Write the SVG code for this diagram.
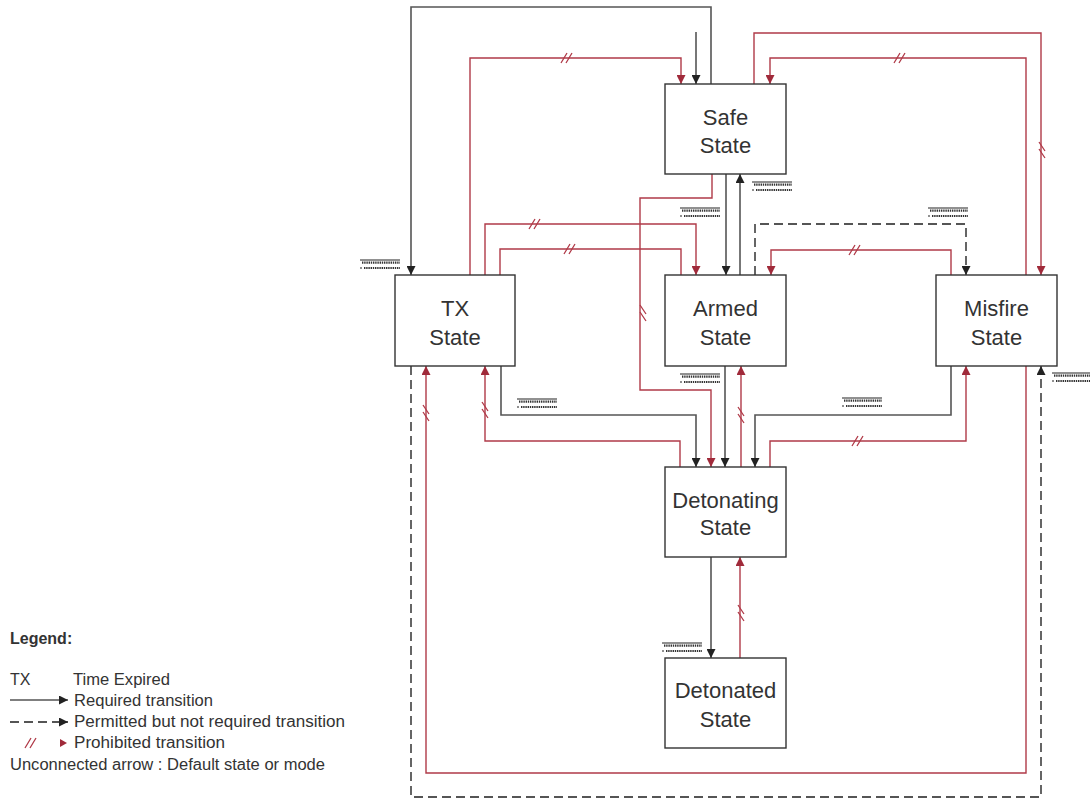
<svg xmlns="http://www.w3.org/2000/svg" xmlns:xlink="http://www.w3.org/1999/xlink" width="1090" height="799" viewBox="0 0 1090 799">
<style>
.box{fill:#fff;stroke:#333;stroke-width:1.4}
.nt{font-family:"Liberation Sans",Arial,sans-serif;font-size:22px;fill:#333;text-anchor:middle}
.lt{font-family:"Liberation Sans",Arial,sans-serif;font-size:16px;fill:#333}
.req{fill:none;stroke:#555;stroke-width:1.6}
.perm{fill:none;stroke:#555;stroke-width:1.8;stroke-dasharray:9 5}
.pro{fill:none;stroke:#b03a48;stroke-width:1.4}
.sl{stroke:#b03a48;stroke-width:1.3;fill:none}
.sqs{stroke:#222;stroke-width:1;fill:none}
.sqd{stroke:#333;stroke-width:2.2;stroke-dasharray:1.4 0.8;fill:none}
</style>
<defs>
<marker id="ab" viewBox="0 0 10 10" refX="10" refY="5" markerWidth="9" markerHeight="9" markerUnits="userSpaceOnUse" orient="auto"><path d="M0,0 L10,5 L0,10 z" fill="#222"/></marker>
<marker id="ar" viewBox="0 0 10 10" refX="10" refY="5" markerWidth="9" markerHeight="9" markerUnits="userSpaceOnUse" orient="auto"><path d="M0,0 L10,5 L0,10 z" fill="#a02a3a"/></marker>
<g id="slH"><path class="sl" d="M-6,5 L0,-5 M-1,5 L5,-5"/></g>
<g id="slV"><path class="sl" d="M-3,-8 L3,1 M-3,-1 L3,8"/></g>
<g id="sq"><path class="sqs" d="M0,0 H40"/><path class="sqd" d="M2,2.6 H40"/><path class="sqd" d="M4,8 H40"/><path class="sqs" d="M0,8 H2"/></g>
</defs>

<g id="connectors">
  <!-- required -->
  <path class="req" d="M711,84 V7 H411 V275" marker-end="url(#ab)"/>
  <path class="req" d="M696,32 V84" marker-end="url(#ab)"/>
  <path class="req" d="M726,174 V275" marker-end="url(#ab)"/>
  <path class="req" d="M740,275 V174" marker-end="url(#ab)"/>
  <path class="req" d="M501,366 V415 H696 V467" marker-end="url(#ab)"/>
  <path class="req" d="M725,366 V467" marker-end="url(#ab)"/>
  <path class="req" d="M951,366 V415 H755 V467" marker-end="url(#ab)"/>
  <path class="req" d="M711,557 V658" marker-end="url(#ab)"/>
  <!-- permitted -->
  <path class="perm" d="M755,275 V224 H966 V275" marker-end="url(#ab)"/>
  <path class="perm" d="M411,366 V797 H1041 V366" marker-end="url(#ab)"/>
  <!-- prohibited -->
  <path class="pro" d="M470,275 V58 H681 V84" marker-end="url(#ar)"/>
  <path class="pro" d="M754,84 V33 H1041 V275" marker-end="url(#ar)"/>
  <path class="pro" d="M1026,275 V58 H770 V84" marker-end="url(#ar)"/>
  <path class="pro" d="M485,275 V224 H696 V275" marker-end="url(#ar)"/>
  <path class="pro" d="M681,275 V249 H500 V275"/>
  <path class="pro" d="M951,275 V250 H771 V275" marker-end="url(#ar)"/>
  <path class="pro" d="M712,174 V198 H640 V390 H711 V467" marker-end="url(#ar)"/>
  <path class="pro" d="M680,467 V441 H485 V366" marker-end="url(#ar)"/>
  <path class="pro" d="M741,467 V366" marker-end="url(#ar)"/>
  <path class="pro" d="M770,467 V441 H966 V366" marker-end="url(#ar)"/>
  <path class="pro" d="M1026,366 V773 H426 V366" marker-end="url(#ar)"/>
  <path class="pro" d="M740,658 V557" marker-end="url(#ar)"/>
  <!-- prohibited marks -->
  <use xlink:href="#slH" x="567" y="58"/>
  <use xlink:href="#slV" x="1042" y="150"/>
  <use xlink:href="#slH" x="900" y="58"/>
  <use xlink:href="#slH" x="535" y="224"/>
  <use xlink:href="#slH" x="570" y="249"/>
  <use xlink:href="#slH" x="855" y="250"/>
  <use xlink:href="#slV" x="643" y="313"/>
  <use xlink:href="#slV" x="485" y="410"/>
  <use xlink:href="#slV" x="741" y="415"/>
  <use xlink:href="#slH" x="858" y="441"/>
  <use xlink:href="#slV" x="426" y="413"/>
  <use xlink:href="#slV" x="741" y="613"/>
  <!-- illegible labels -->
  <use xlink:href="#sq" x="360" y="260"/>
  <use xlink:href="#sq" x="752" y="182"/>
  <use xlink:href="#sq" x="680" y="208"/>
  <use xlink:href="#sq" x="928" y="208"/>
  <use xlink:href="#sq" x="680" y="374"/>
  <use xlink:href="#sq" x="517" y="399"/>
  <use xlink:href="#sq" x="842" y="398"/>
  <use xlink:href="#sq" x="1052" y="373"/>
  <use xlink:href="#sq" x="662" y="643"/>
</g>

<g id="safe"><rect class="box" x="665" y="84" width="121" height="90"/><text class="nt" x="725.5" y="125">Safe</text><text class="nt" x="725.5" y="153">State</text></g>
<g id="tx"><rect class="box" x="395" y="275" width="120" height="91"/><text class="nt" x="455" y="316">TX</text><text class="nt" x="455" y="345">State</text></g>
<g id="armed"><rect class="box" x="665" y="275" width="121" height="91"/><text class="nt" x="725.5" y="316">Armed</text><text class="nt" x="725.5" y="345">State</text></g>
<g id="misfire"><rect class="box" x="936" y="275" width="121" height="91"/><text class="nt" x="996.5" y="316">Misfire</text><text class="nt" x="996.5" y="345">State</text></g>
<g id="detonating"><rect class="box" x="665" y="467" width="121" height="90"/><text class="nt" x="725.5" y="508">Detonating</text><text class="nt" x="725.5" y="535">State</text></g>
<g id="detonated"><rect class="box" x="665" y="658" width="121" height="90"/><text class="nt" x="725.5" y="698">Detonated</text><text class="nt" x="725.5" y="727">State</text></g>

<g id="legend">
  <text class="lt" x="10" y="644" font-weight="bold" font-size="15">Legend:</text>
  <text class="lt" x="10" y="685">TX</text>
  <text class="lt" x="73" y="685" textLength="97" lengthAdjust="spacingAndGlyphs">Time Expired</text>
  <path class="req" d="M10,700 H68" marker-end="url(#ab)"/>
  <text class="lt" x="74" y="706" textLength="139" lengthAdjust="spacingAndGlyphs">Required transition</text>
  <path class="perm" d="M10,722 H68" marker-end="url(#ab)"/>
  <text class="lt" x="74" y="727" textLength="271" lengthAdjust="spacingAndGlyphs">Permitted but not required transition</text>
  <use xlink:href="#slH" x="31" y="743"/>
  <path d="M60,739 L67,743 L60,747 z" fill="#a02a3a"/>
  <text class="lt" x="74" y="748" textLength="151" lengthAdjust="spacingAndGlyphs">Prohibited transition</text>
  <text class="lt" x="10" y="770" textLength="315" lengthAdjust="spacingAndGlyphs">Unconnected arrow : Default  state or mode</text>
</g>
</svg>
